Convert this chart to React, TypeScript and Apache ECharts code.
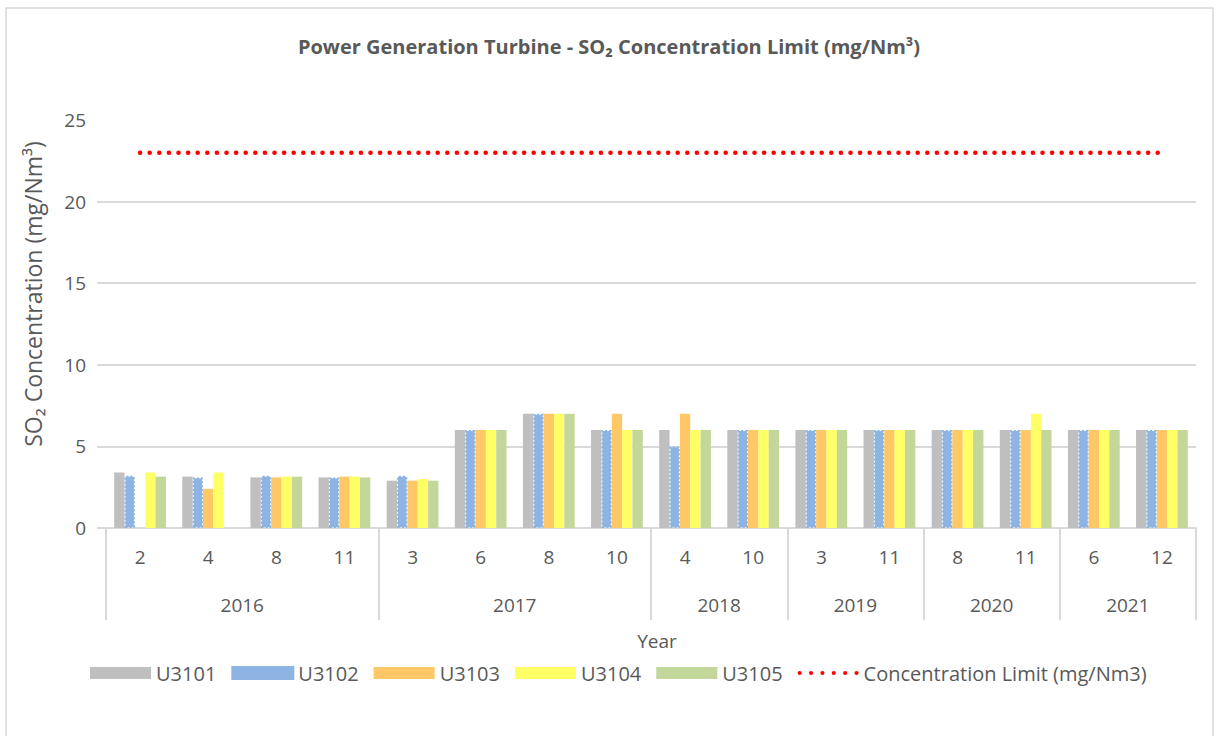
import React, { useEffect, useRef } from "react";
import * as echarts from "echarts";

const months = ["2", "4", "8", "11", "3", "6", "8", "10", "4", "10", "3", "11", "8", "11", "6", "12"];
const years = ["2016", "2017", "2018", "2019", "2020", "2021"];
const yearCenters = [2, 6, 9, 11, 13, 15];
const yearBounds = [0, 4, 8, 10, 12, 14, 16];

const u3101 = [3.4, 3.15, 3.1, 3.1, 2.9, 6, 7, 6, 6, 6, 6, 6, 6, 6, 6, 6];
const u3102 = [3.2, 3.1, 3.2, 3.1, 3.2, 6, 7, 6, 5, 6, 6, 6, 6, 6, 6, 6];
const u3103 = [null, 2.4, 3.1, 3.15, 2.9, 6, 7, 7, 7, 6, 6, 6, 6, 6, 6, 6];
const u3104 = [3.4, 3.4, 3.15, 3.15, 3.0, 6, 7, 6, 6, 6, 6, 6, 6, 7, 6, 6];
const u3105 = [3.15, null, 3.15, 3.1, 2.9, 6, 7, 6, 6, 6, 6, 6, 6, 6, 6, 6];
const limit = [23, 23, 23, 23, 23, 23, 23, 23, 23, 23, 23, 23, 23, 23, 23, 23];

const FONT = "Open Sans";
const TXT = "#595959";
const GRID = "#D9D9D9";

const dotIcon =
  "path://" +
  [2, 13, 24, 35, 46, 57]
    .map((cx) => `M${cx - 2},6 a2,2 0 1,0 4,0 a2,2 0 1,0 -4,0 Z`)
    .join(" ");

export default function App() {
  const ref = useRef<HTMLDivElement>(null);
  useEffect(() => {
    const chart = echarts.init(ref.current!, null, { renderer: "svg" });
    const bar = (name: string, data: (number | null)[], color: string, extra: any = {}) => ({
      name,
      type: "bar",
      xAxisIndex: 0,
      data,
      barGap: "0%",
      barCategoryGap: "24%",
      itemStyle: { color, ...extra },
    });
    chart.setOption({
      animation: false,
      textStyle: { fontFamily: FONT },
      title: {
        text: "Power Generation Turbine - SO₂ Concentration Limit (mg/Nm³)",
        left: "center",
        top: 31,
        textStyle: { fontFamily: FONT, fontSize: 20, fontWeight: "bold", color: TXT },
      },
      legend: {
        left: 85,
        top: 658,
        itemWidth: 61,
        itemHeight: 12,
        itemGap: 15,
        textStyle: { fontFamily: FONT, fontSize: 20, color: TXT },
        data: [
          { name: "U3101", icon: "rect" },
          { name: "U3102", icon: "rect" },
          { name: "U3103", icon: "rect" },
          { name: "U3104", icon: "rect" },
          { name: "U3105", icon: "rect" },
          { name: "Concentration Limit (mg/Nm3)", icon: dotIcon },
        ],
      },
      grid: { left: 106, right: 22, top: 120, bottom: 208, containLabel: false },
      xAxis: [
        {
          type: "category",
          data: months,
          axisLine: { lineStyle: { color: GRID, width: 2 } },
          axisTick: { show: false },
          axisLabel: { color: TXT, fontSize: 19, fontFamily: FONT, margin: 19, interval: 0 },
        },
        {
          type: "value",
          min: 0,
          max: 16,
          position: "bottom",
          axisLine: { show: false },
          splitLine: { show: false },
          axisTick: {
            show: true,
            customValues: yearBounds,
            length: 92,
            lineStyle: { color: GRID, width: 2 },
          },
          axisLabel: {
            customValues: yearCenters,
            formatter: (v: number) => years[yearCenters.indexOf(v)] ?? "",
            color: TXT,
            fontSize: 19,
            fontFamily: FONT,
            margin: 67,
          },
        },
      ],
      yAxis: {
        type: "value",
        min: 0,
        max: 25,
        interval: 5,
        axisLine: { show: false },
        axisTick: {
          show: true,
          customValues: [0, 5, 10, 15, 20],
          length: 9,
          lineStyle: { color: GRID, width: 2 },
        },
        axisLabel: { color: TXT, fontSize: 19, fontFamily: FONT, margin: 20 },
        splitLine: {
          lineStyle: { color: [GRID, GRID, GRID, GRID, GRID, "rgba(0,0,0,0)"], width: 2 },
        },
      },
      graphic: [
        {
          type: "rect",
          shape: { x: 6, y: 8, width: 1207, height: 745 },
          style: { fill: "none", stroke: GRID, lineWidth: 1.5 },
          silent: true,
        },
        {
          type: "text",
          x: 33,
          y: 294,
          rotation: Math.PI / 2,
          style: {
            text: "SO₂ Concentration (mg/Nm³)",
            fontFamily: FONT,
            fontSize: 23,
            fill: TXT,
            align: "center",
            verticalAlign: "middle",
          },
        },
        {
          type: "text",
          x: 657,
          y: 641,
          style: {
            text: "Year",
            fontFamily: FONT,
            fontSize: 19,
            fill: TXT,
            align: "center",
            verticalAlign: "middle",
          },
        },
      ],
      series: [
        bar("U3101", u3101, "#BFBFBF"),
        bar("U3102", u3102, "#8DB4E2", { borderColor: "#8DB4E2", borderType: "dotted", borderWidth: 2 }),
        bar("U3103", u3103, "#FFC766"),
        bar("U3104", u3104, "#FFFF66"),
        bar("U3105", u3105, "#C4D79B"),
        {
          name: "Concentration Limit (mg/Nm3)",
          type: "line",
          xAxisIndex: 0,
          data: limit,
          symbol: "none",
          lineStyle: { color: "#FF0000", width: 4.5, type: [0.1, 9.5], cap: "round" },
          itemStyle: { color: "#FF0000" },
        },
      ],
    });
    return () => chart.dispose();
  }, []);
  return <div ref={ref} style={{ position: "absolute", left: 0, top: 0, width: 1218, height: 736 }} />;
}
